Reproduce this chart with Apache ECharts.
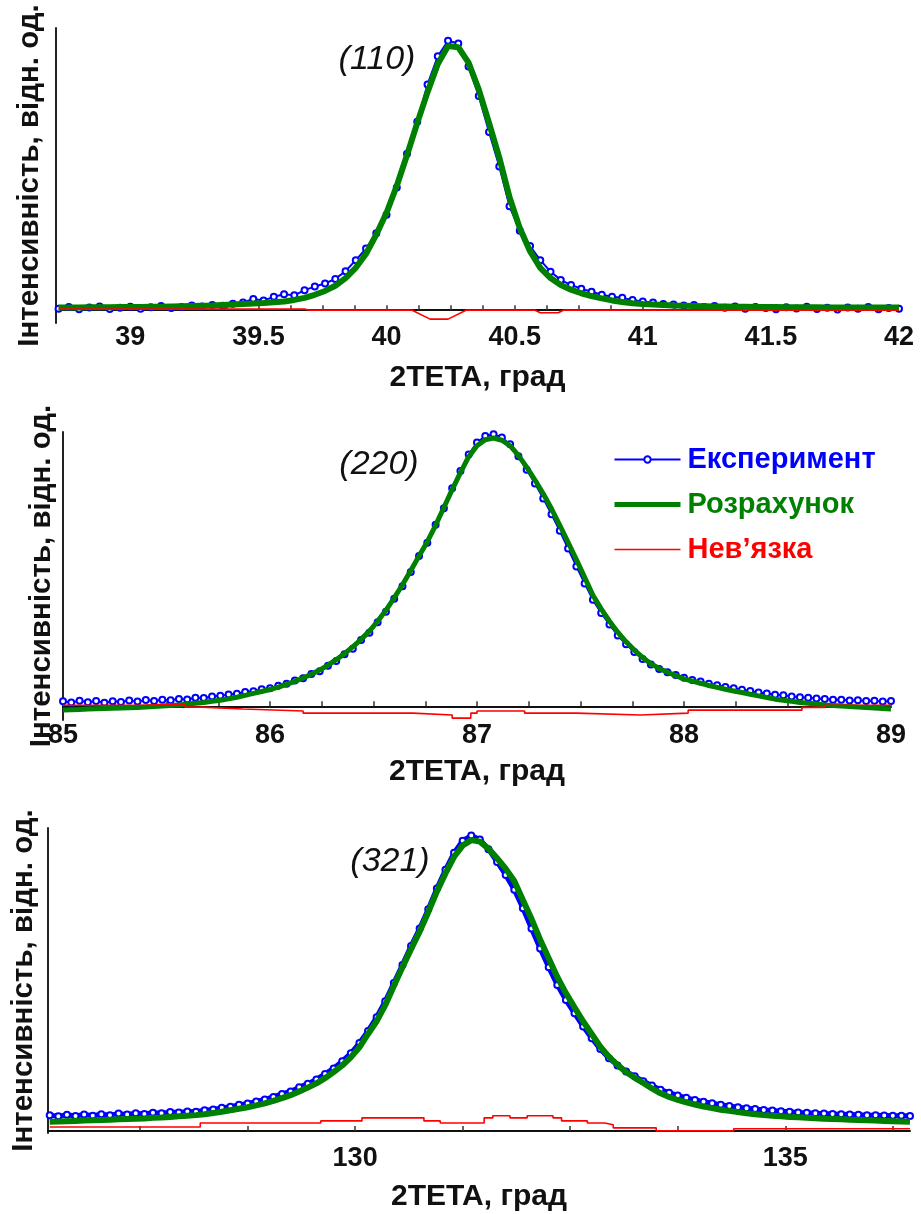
<!DOCTYPE html>
<html>
<head>
<meta charset="utf-8">
<script src="https://cdn.jsdelivr.net/npm/echarts@6/dist/echarts.min.js"></script>
<style>
  html, body { margin: 0; padding: 0; background: #ffffff; }
  #chart { width: 921px; height: 1214px; }
</style>
</head>
<body>
<div id="chart"></div>
<script>
// Reflex (110): scan start / step (deg 2θ) and intensities
const r110Start = 38.72, r110Step = 0.04;
const r110Exp = [6,12,4,10,14,5,9,13,6,11,16,8,12,18,14,20,17,25,30,44,38,52,62,58,78,92,104,122,152,195,
  240,300,372,478,610,735,880,990,1050,1040,950,835,695,560,405,310,250,195,150,118,98,84,72,60,52,48,40,34,30,24,
  22,18,20,12,16,9,14,6,12,8,4,11,7,13,5,9,3,10,6,12,4,8,6];
const r110Calc = [10,10,10,11,11,11,12,12,12,13,13,14,15,16,17,18,20,22,24,26,28,31,34,40,48,60,75,95,125,165,
  220,295,380,485,605,730,850,960,1030,1025,965,860,730,595,440,320,230,165,125,98,80,66,55,46,38,32,27,24,22,20,
  18,17,16,15,14,14,13,13,12,12,12,11,11,11,11,10,10,10,10,10,10,10,10];
const r110Diff = [[38.72,4],[39.68,4],[39.70,0],[40.10,0],[40.17,-35],[40.24,-35],[40.31,0],[40.58,0],[40.60,-10],[40.67,-10],[40.69,0],[42.0,0]];

// Reflex (220)
const r220Start = 85.0, r220Step = 0.04;
const r220Exp = [18,14,20,15,19,13,18,16,21,17,23,19,24,22,27,25,31,30,36,38,43,46,52,55,62,66,75,82,94,102,
  118,128,148,165,190,210,242,268,306,345,392,438,490,548,596,662,722,795,858,918,962,985,992,980,955,912,862,812,758,700,
  640,575,510,448,388,340,298,258,226,198,172,152,136,124,114,104,96,90,82,77,70,66,60,56,50,47,42,40,36,33,
  31,28,27,24,24,21,22,19,20,17,19];
const r220Calc = [-14,-13,-12,-10,-9,-8,-7,-6,-5,-4,-3,-1,1,3,5,8,11,14,18,22,27,33,40,47,54,61,70,80,91,103,
  117,132,150,170,192,217,244,274,310,350,395,443,495,548,600,660,725,790,852,910,950,972,978,970,950,915,872,825,775,720,
  660,598,535,470,405,355,310,270,235,205,178,155,138,124,112,100,92,84,76,69,62,56,50,44,38,32,26,22,18,14,
  11,8,5,3,1,-1,-3,-4,-6,-8,-10];
const r220Diff = [[85.0,4],[85.37,8],[85.59,-3],[85.67,-10],[85.87,-17],[86.16,-25],[86.69,-32],[86.88,-43],[86.97,-25],
  [87.0,-17],[87.23,-25],[87.48,-32],[87.79,-25],[88.02,-14],[88.57,-4],[88.68,4],[89.0,4]];

// Reflex (321)
const r321Start = 126.45, r321Step = 0.1;
const r321Exp = [52,48,53,49,54,50,55,52,57,54,58,56,60,58,62,61,64,63,68,71,76,80,86,90,97,104,112,122,130,144,
  156,170,188,206,230,256,290,330,375,428,488,548,610,668,732,800,862,918,958,975,962,930,888,845,796,735,668,602,540,482,
  432,388,345,306,270,240,216,196,180,164,150,136,126,117,109,102,96,91,86,82,78,75,72,69,67,65,63,61,60,58,
  57,56,55,54,53,52,52,51,50,50,49];
const r321Calc = [30,31,32,33,34,35,36,37,38,39,40,41,43,44,46,48,50,52,55,59,63,68,73,78,84,91,99,108,118,130,
  143,157,174,194,216,243,276,320,362,415,478,540,600,658,722,790,850,905,942,960,955,932,900,866,825,762,700,632,570,508,
  455,408,362,320,278,245,218,194,175,158,140,124,112,102,94,87,80,75,70,66,62,58,55,52,50,48,46,45,43,42,
  40,39,38,37,36,35,34,33,32,31,30];
const r321Diff = [[126.45,13],[128.2,26],[129.6,33],[130.08,43],[130.8,33],[130.99,26],[131.5,43],[131.6,50],[131.8,43],
  [132.0,50],[132.3,43],[132.4,33],[132.7,26],[132.9,20],[133.0,10],[133.5,0],[134.4,7],[136.45,7]];

// Axis tick labels
const r110Labels = [39, 39.5, 40, 40.5, 41, 41.5, 42];
const r220Labels = [85, 86, 87, 88, 89];
const r321Labels = [130, 135];

const reflexNames = ['(110)', '(220)', '(321)'];
const seriesNames = ['Експеримент', 'Розрахунок', 'Нев’язка'];
const xTitle = '2TETA, град';
const yTitle = 'Інтенсивність, відн. од.';

const FONT = '"Liberation Sans", Arial, sans-serif';
const BLUE = '#0000ff', GREEN = '#008000', RED = '#ff0000';

function toPairs(start, step, values) {
  return values.map((v, i) => [+(start + i * step).toFixed(3), v]);
}
function tickList(from, to, step) {
  const out = [];
  for (let v = from; v <= to + 1e-9; v += step) out.push(+v.toFixed(4));
  return out;
}

const panels = [
  { grid: { left: 56, top: 28, width: 843, height: 295 }, xMin: 38.71, xMax: 42.0, yMin: -50, yMax: 1100,
    ticks: tickList(38.75, 42.0, 0.125), labels: r110Labels, nameGap: 11, labelMargin: 1, titleGap: 40,
    exp: toPairs(r110Start, r110Step, r110Exp), calc: toPairs(r110Start, r110Step, r110Calc), diff: r110Diff, diffStep: false,
    expWidth: 2, calcWidth: 6, tag: { x: 377, y: 60 } },
  { grid: { left: 63, top: 432, width: 828, height: 288 }, xMin: 85, xMax: 89, yMin: -50, yMax: 1000,
    ticks: tickList(85, 89, 0.25), labels: r220Labels, nameGap: 6, labelMargin: 2, titleGap: 37,
    exp: toPairs(r220Start, r220Step, r220Exp), calc: toPairs(r220Start, r220Step, r220Calc), diff: r220Diff, diffStep: 'end',
    expWidth: 2, calcWidth: 5, tag: { x: 379, y: 465 } },
  { grid: { left: 48, top: 828, width: 862, height: 305 }, xMin: 126.43, xMax: 136.45, yMin: -7, yMax: 1000,
    ticks: tickList(127.5, 136.25, 1.25), labels: r321Labels, nameGap: 9, labelMargin: 12, titleGap: 49,
    exp: toPairs(r321Start, r321Step, r321Exp), calc: toPairs(r321Start, r321Step, r321Calc), diff: r321Diff, diffStep: 'end',
    expWidth: 5, calcWidth: 6, tag: { x: 390, y: 862 } }
];

const grids = [], xAxes = [], yAxes = [], series = [], graphics = [];
panels.forEach((p, i) => {
  grids.push(Object.assign({ containLabel: false }, p.grid));
  xAxes.push({
    gridIndex: i, type: 'value', min: p.xMin, max: p.xMax,
    axisLine: { show: true, onZero: true, lineStyle: { color: '#111', width: 2 } },
    axisTick: { show: true, inside: true, length: 5, customValues: p.ticks, lineStyle: { color: '#333', width: 1.5 } },
    axisLabel: { customValues: p.labels, fontSize: 27, fontWeight: 'bold', color: '#111', fontFamily: FONT, margin: p.labelMargin },
    splitLine: { show: false },
    name: xTitle, nameLocation: 'middle', nameGap: p.titleGap,
    nameTextStyle: { fontSize: 30, fontWeight: 'bold', color: '#111', fontFamily: FONT }
  });
  yAxes.push({
    gridIndex: i, type: 'value', min: p.yMin, max: p.yMax,
    axisLine: { show: true, onZero: false, lineStyle: { color: '#222', width: 2 } },
    axisTick: { show: false }, axisLabel: { show: false }, splitLine: { show: false },
    name: yTitle, nameLocation: 'middle', nameGap: p.nameGap,
    nameTextStyle: { fontSize: 29.5, fontWeight: 'bold', color: '#111', fontFamily: FONT }
  });
  series.push({
    name: seriesNames[0], type: 'line', xAxisIndex: i, yAxisIndex: i, data: p.exp,
    symbol: 'emptyCircle', symbolSize: 6, showAllSymbol: true,
    lineStyle: { color: BLUE, width: p.expWidth },
    itemStyle: { color: BLUE, borderColor: BLUE, borderWidth: 1.2 },
    z: 2
  });
  series.push({
    name: seriesNames[1], type: 'line', xAxisIndex: i, yAxisIndex: i, data: p.calc,
    symbol: 'none', lineStyle: { color: GREEN, width: p.calcWidth }, itemStyle: { color: GREEN },
    z: 3
  });
  series.push({
    name: seriesNames[2], type: 'line', xAxisIndex: i, yAxisIndex: i, data: p.diff, step: p.diffStep,
    symbol: 'none', lineStyle: { color: RED, width: 1.6 }, itemStyle: { color: RED },
    z: 4
  });
  graphics.push({
    type: 'text', x: p.tag.x, y: p.tag.y, z: 10,
    style: { text: reflexNames[i], font: 'italic 34px ' + FONT, fill: '#111', textAlign: 'center', textVerticalAlign: 'middle' }
  });
});

const chart = echarts.init(document.getElementById('chart'), null, { renderer: 'canvas' });
chart.setOption({
  animation: false,
  backgroundColor: '#ffffff',
  grid: grids,
  xAxis: xAxes,
  yAxis: yAxes,
  series: series,
  graphic: graphics,
  legend: {
    orient: 'vertical', left: 607, top: 440,
    itemWidth: 66, itemHeight: 8, itemGap: 16,
    selectedMode: false,
    textStyle: { fontSize: 29, fontWeight: 'bold', fontFamily: FONT, padding: [0, 0, 0, 2] },
    data: [
      { name: seriesNames[0], textStyle: { color: BLUE }, lineStyle: { width: 2 } },
      { name: seriesNames[1], textStyle: { color: GREEN }, lineStyle: { width: 5 }, itemStyle: { opacity: 0 } },
      { name: seriesNames[2], textStyle: { color: RED }, lineStyle: { width: 1.5 }, itemStyle: { opacity: 0 } }
    ]
  }
});
</script>
</body>
</html>
